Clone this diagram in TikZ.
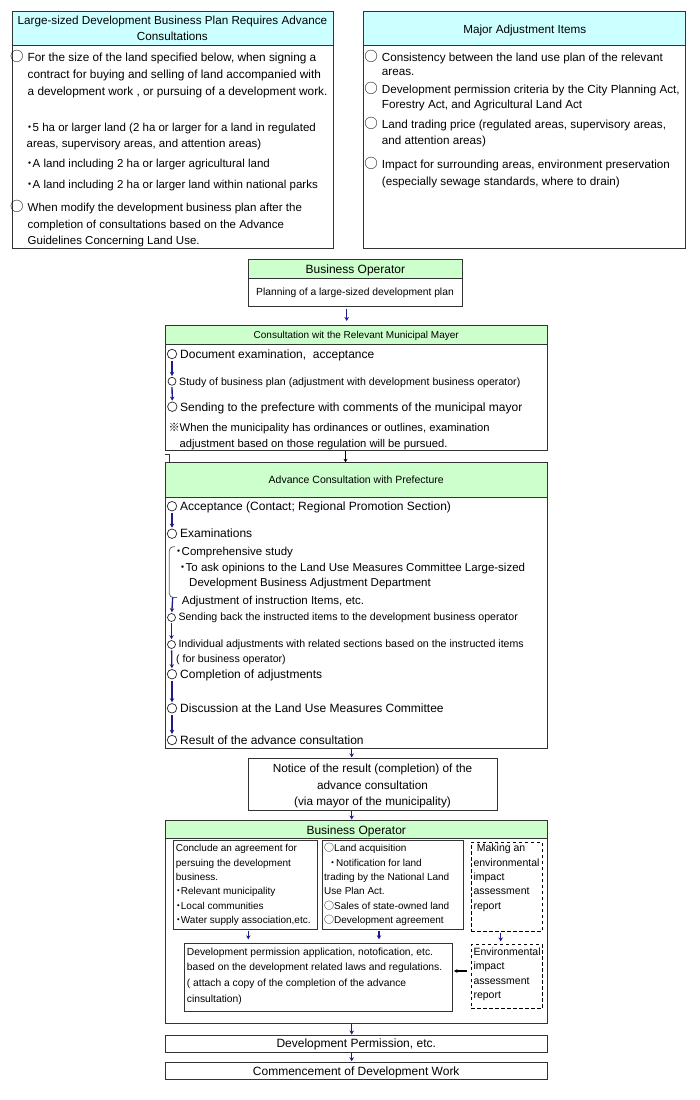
\documentclass[tikz,border=0pt]{standalone}
\usepackage{fontspec}
\setmainfont{Liberation Sans}
\newfontfamily\cjk{Noto Sans CJK JP}
\usetikzlibrary{arrows.meta}
\definecolor{hcyan}{HTML}{CCFFFF}
\definecolor{hgreen}{HTML}{CCFFCC}
\definecolor{navy}{HTML}{1C1C8A}
\definecolor{frm}{HTML}{333333}
\newcommand\setfs[2]{\fontsize{#1}{#2}\selectfont}
\newcommand\myO{{\cjk ○}}
\newcommand\bigO{{\cjk\fontsize{13.5}{14}\selectfont ○}}
\newcommand\myKome{{\cjk ※}}
\newcommand\bul[1]{\makebox[#1][c]{\cjk ・}}
\begin{document}
\begin{tikzpicture}[x=1pt,y=-1pt,
 boxframe/.style={draw=frm, line width=0.8pt, inner sep=0pt, anchor=north west},
 dbox/.style={draw=black, line width=1pt, dash pattern=on 3.5pt off 2.5pt, inner sep=0pt, anchor=north west},
 txt/.style={inner sep=0pt, anchor=north west, align=left},
 tline/.style={inner sep=0pt, anchor=base west},
 flowdot/.style={circle, draw=black!85, line width=0.7pt, inner sep=0pt, minimum size=9.5pt},
 sdot/.style={flowdot, minimum size=8pt},
 barr/.style={draw=navy, line width=1.3pt, -{Stealth[length=4pt,width=4.5pt]}},
 karr/.style={draw=black, line width=1.1pt, -{Stealth[length=3.5pt,width=4pt]}},
 hdrc/.style={boxframe, fill=hcyan},
 hdrg/.style={boxframe, fill=hgreen}]
\path[fill=white, use as bounding box] (0,0) rectangle (700,1100);

% ---------- top left box
\node[boxframe, minimum width=321pt, minimum height=237.3pt] (tl) at (11.5,11) {};
\node[hdrc, minimum width=321pt, minimum height=34pt, align=center, font=\setfs{11.7}{16.7}] (tlh) at (11.5,11)
  {Large-sized Development Business Plan Requires Advance\\Consultations};
\node[txt, font=\setfs{11.8}{17.3}] (tl1) at (27.5,48.9)
  {\strut\llap{\bigO\kern4pt}For the size of the land specified below, when signing a\\contract for buying and selling of land accompanied with\\a development work , or pursuing of a development work.};
\node[txt, font=\setfs{11.5}{16.3}] (tl2) at (26.5,119.6)
  {\strut\bul{6pt}5 ha or larger land (2 ha or larger for a land in regulated\\areas, supervisory areas, and attention areas)};
\node[tline, font=\setfs{11.5}{14}] (tl3) at (26.5,167.7) {\bul{6pt}A land including 2 ha or larger agricultural land};
\node[tline, font=\setfs{11.5}{14}] (tl4) at (26.5,188.3) {\bul{6pt}A land including 2 ha or larger land within national parks};
\node[txt, font=\setfs{11.5}{16.3}] (tl5) at (27.5,200.3)
  {\strut\llap{\bigO\kern4pt}When modify the development business plan after the\\completion of consultations based on the Advance\\Guidelines Concerning Land Use.};

% ---------- top right box
\node[boxframe, minimum width=322pt, minimum height=237.3pt] (tr) at (363.3,11) {};
\node[hdrc, minimum width=322pt, minimum height=34pt, font=\setfs{11.7}{14}, text height=9.4pt, text depth=0pt] (trh) at (363.3,11) {Major Adjustment Items};
\node[txt, font=\setfs{11.7}{14}] (tr1) at (381.7,50.2)
  {\strut\llap{\bigO\kern4pt}Consistency between the land use plan of the relevant\\areas.};
\node[txt, font=\setfs{11.7}{15.6}] (tr2) at (381.7,81.8)
  {\strut\llap{\bigO\kern4pt}Development permission criteria by the City Planning Act,\\Forestry Act, and Agricultural Land Act};
\node[txt, font=\setfs{11.7}{15.7}] (tr3) at (381.7,117.3)
  {\strut\llap{\bigO\kern4pt}Land trading price (regulated areas, supervisory areas,\\and attention areas)};
\node[txt, font=\setfs{11.7}{16.7}] (tr4) at (381.7,156.6)
  {\strut\llap{\bigO\kern4pt}Impact for surrounding areas, environment preservation\\(especially sewage standards, where to drain)};

% ---------- business operator (top)
\node[boxframe, minimum width=213.4pt, minimum height=46.7pt] (bo) at (248.3,259) {};
\node[hdrg, minimum width=213.4pt, minimum height=19.3pt, font=\setfs{12}{14}, text height=9.4pt, text depth=0pt] (boh) at (248.3,259) {Business Operator};
\node[inner sep=0pt, anchor=base, font=\setfs{10.3}{12}] (bot) at (355,295) {Planning of a large-sized development plan};

% ---------- mayor
\node[boxframe, minimum width=381.7pt, minimum height=125pt] (my) at (165,325) {};
\node[hdrg, minimum width=381.7pt, minimum height=19.3pt, font=\setfs{10}{12}, text height=7.2pt, text depth=0pt] (myh) at (165,325) {Consultation wit the Relevant Municipal Mayer};
\node[flowdot] (m1) at (172,354) {};
\node[tline, font=\setfs{12}{14}] (m1t) at (180,358.3) {Document examination,\ \ acceptance};
\node[sdot] (m2) at (172,381.3) {};
\node[tline, font=\setfs{10.6}{12}] (m2t) at (179,385) {Study of business plan (adjustment with development business operator)};
\node[flowdot] (m3) at (172.3,406.7) {};
\node[tline, font=\setfs{12}{14}] (m3t) at (180,411) {Sending to the prefecture with comments of the municipal mayor};
\node[txt, font=\setfs{11.2}{15.6}] (m4t) at (179.5,420.8)
  {\strut\llap{\myKome}When the municipality has ordinances or outlines, examination\\adjustment based on those regulation will be pursued.};
\draw[barr, shorten <=1.5pt, shorten >=1pt] (m1) -- (m2);
\draw[barr, shorten <=1.5pt, shorten >=1pt] (m2) -- (m3);

% ---------- prefecture
\node[boxframe, minimum width=381.7pt, minimum height=285.7pt] (pf) at (165,462.3) {};
\node[hdrg, minimum width=381.7pt, minimum height=34.4pt, font=\setfs{10.5}{12}, text height=7.6pt, text depth=0pt] (pfh) at (165,462.3) {Advance Consultation with Prefecture};
\node[flowdot] (p1) at (172,506.2) {};
\node[tline, font=\setfs{12}{14}] (p1t) at (180,510) {Acceptance (Contact; Regional Promotion Section)};
\node[flowdot] (p2) at (172,533.7) {};
\node[tline, font=\setfs{12}{14}] (p2t) at (180,537.7) {Examinations};
\draw[black!60, line width=0.8pt, rounded corners=4pt] (175,546.7) -- (169.3,546.7) -- (169.3,597.5) -- (177,597.5);
\node[tline, font=\setfs{11.5}{14}] (b1t) at (175.5,555) {\bul{6pt}Comprehensive study};
\node[txt, font=\setfs{11.5}{15}] (b2t) at (179.5,561.2)
  {\strut\bul{6pt}To ask opinions to the Land Use Measures Committee Large-sized\\\hspace*{9.5pt}Development Business Adjustment Department};
\node[tline, font=\setfs{11.5}{14}] (b3t) at (181.7,604) {Adjustment of instruction Items, etc.};
\coordinate (brk) at (172.7,597.5);
\node[sdot] (p3) at (171.5,617.5) {};
\node[tline, font=\setfs{10.6}{12}] (p3t) at (178.3,620.7) {Sending back the instructed items to the development business operator};
\node[sdot] (p4) at (171.5,644.5) {};
\node[tline, font=\setfs{10.6}{12}] (p4t) at (178.3,647.7) {Individual adjustments with related sections based on the instructed items};
\node[tline, font=\setfs{10.6}{12}] (p4u) at (176,662.3) {( for business operator)};
\node[flowdot] (p5) at (172,674.2) {};
\node[tline, font=\setfs{12}{14}] (p5t) at (180,678.3) {Completion of adjustments};
\node[flowdot] (p6) at (172,708.3) {};
\node[tline, font=\setfs{12}{14}] (p6t) at (180,712.7) {Discussion at the Land Use Measures Committee};
\node[flowdot] (p7) at (172,740) {};
\node[tline, font=\setfs{12}{14}] (p7t) at (180,744) {Result of the advance consultation};
\draw[barr, shorten <=1.5pt, shorten >=1pt] (p1) -- (p2);
\draw[barr, shorten >=1pt] (brk) -- (p3);
\draw[barr, shorten <=1.5pt, shorten >=1pt] (p3) -- (p4);
\draw[barr, shorten <=1.5pt, shorten >=1pt] (p4) -- (p5);
\draw[barr, shorten <=1.5pt, shorten >=1pt] (p5) -- (p6);
\draw[barr, shorten <=1.5pt, shorten >=1pt] (p6) -- (p7);

% ---------- notice
\node[boxframe, minimum width=248.4pt, minimum height=51.7pt] (nt) at (248.3,758.3) {};
\node[txt, anchor=north, align=center, font=\setfs{11.8}{16.2}] (ntt) at (372.5,761.4)
  {\strut Notice of the result (completion) of the\\advance consultation\\(via mayor of the municipality)};

% ---------- business operator (bottom)
\node[boxframe, minimum width=381.7pt, minimum height=203.3pt] (bt) at (165,820) {};
\node[hdrg, minimum width=381.7pt, minimum height=17.7pt, font=\setfs{12}{14}, text height=10.9pt, text depth=0pt] (bth) at (165,820) {Business Operator};
\node[boxframe, minimum width=144pt, minimum height=89pt] (ba) at (173.3,840) {};
\node[txt, font=\setfs{10}{14.3}] (bat) at (175.7,841.7)
  {\strut Conclude an agreement for\\persuing the development\\business.\\\bul{5pt}Relevant municipality\\\bul{5pt}Local communities\\\bul{5pt}Water supply association,etc.};
\node[boxframe, minimum width=140.4pt, minimum height=89pt] (bb) at (322.3,840) {};
\node[txt, font=\setfs{10}{14.3}] (bbt) at (324,841.7)
  {\strut\myO Land acquisition\\\hspace*{5pt}\bul{7pt}Notification for land\\trading by the National Land\\Use Plan Act.\\\myO Sales of state-owned land\\\myO Development agreement};
\node[dbox, minimum width=71pt, minimum height=89pt] (bc) at (470.7,841.7) {};
\node[txt, font=\setfs{10.5}{14.3}] (bct) at (473.3,841.7)
  {\strut\hspace*{3.4pt}Making an\\environmental\\impact\\assessment\\report};
\node[boxframe, minimum width=267.7pt, minimum height=67.4pt] (bd) at (184,943.3) {};
\node[txt, font=\setfs{10.3}{15.7}] (bdt) at (186.7,944)
  {\strut Development permission application, notofication, etc.\\based on the development related laws and regulations.\\( attach a copy of the completion of the advance\\cinsultation)};
\node[dbox, minimum width=71pt, minimum height=64pt] (be) at (470.7,944.3) {};
\node[txt, font=\setfs{10.5}{14.5}] (bet) at (473.3,944.9)
  {\strut Environmental\\impact\\assessment\\report};

% ---------- final boxes
\node[boxframe, minimum width=381.7pt, minimum height=16.7pt, font=\setfs{12}{14}, text height=8pt, text depth=0pt] (dp) at (165,1035) {Development Permission, etc.};
\node[boxframe, minimum width=381.7pt, minimum height=17.3pt, font=\setfs{12}{14}, text height=9.4pt, text depth=0pt] (cm) at (165,1061.7) {Commencement of Development Work};

% ---------- connectors
\coordinate (ax0) at (346.7,0);
\coordinate (ax1) at (345.5,0);
\coordinate (ax2) at (351.7,0);
\coordinate (ax3) at (248.3,0);
\coordinate (ax4) at (379,0);
\coordinate (ax5) at (500.7,0);
\coordinate (ay1) at (0,971);
\draw[barr, shorten <=2pt, shorten >=4pt] (bo.south -| ax0) -- (my.north -| ax0);
\draw[karr] (my.south -| ax1) -- (pf.north -| ax1);
\draw[frm, line width=0.8pt] ([yshift=-3.5pt]my.south west) -| ([xshift=4.3pt]pf.north west);
\draw[barr, shorten >=1pt] (pf.south -| ax2) -- (nt.north -| ax2);
\draw[barr, shorten >=0.5pt] (nt.south -| ax2) -- (bt.north -| ax2);
\draw[barr, shorten <=1pt, shorten >=4pt] (ba.south -| ax3) -- (bd.north -| ax3);
\draw[barr, shorten <=1pt, shorten >=4pt] (bb.south -| ax4) -- (bd.north -| ax4);
\draw[barr, shorten <=1pt, shorten >=3pt] (bc.south -| ax5) -- (be.north -| ax5);
\draw[karr, shorten <=4pt, shorten >=1.5pt] (be.west |- ay1) -- (bd.east |- ay1);
\draw[barr, shorten >=0.5pt] (bt.south -| ax2) -- (dp.north -| ax2);
\draw[barr, shorten >=0.5pt] (dp.south -| ax2) -- (cm.north -| ax2);
\end{tikzpicture}
\end{document}
